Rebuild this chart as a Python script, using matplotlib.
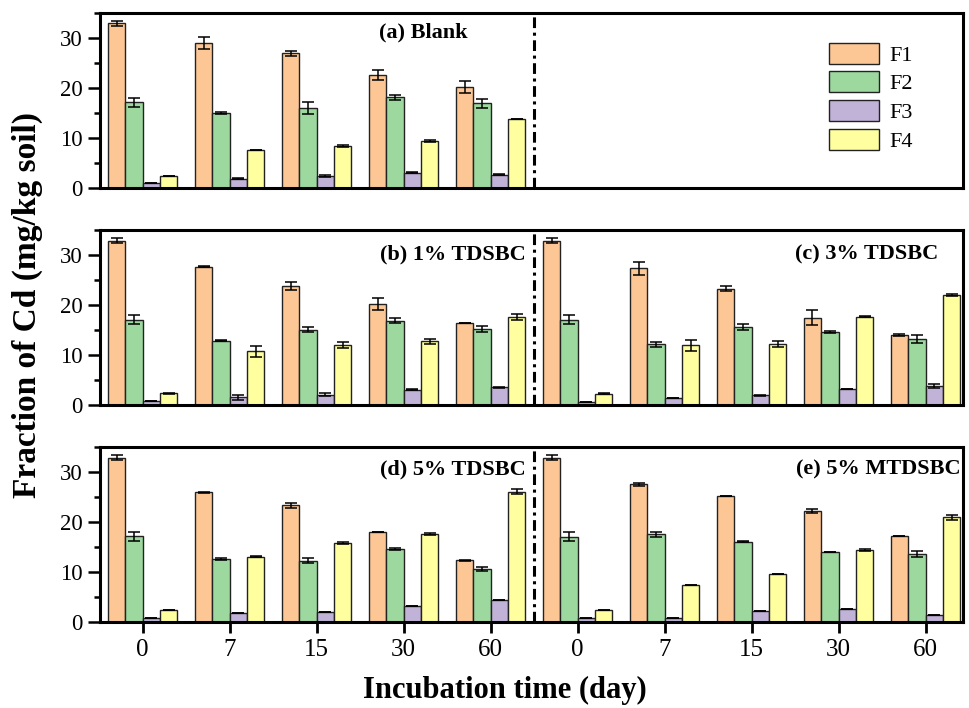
import numpy as np
import matplotlib.pyplot as plt
from matplotlib.ticker import MultipleLocator

plt.rcParams['font.family'] = ['Liberation Serif', 'DejaVu Serif']

days = ['0', '7', '15', '30', '60']
fractions = ['F1', 'F2', 'F3', 'F4']
colors = ['#FDC795', '#9DD89E', '#C1B2D7', '#FFFF9F']

# filas: F1..F4, columnas: 0, 7, 15, 30, 60 dias
blank = [[33.0, 29.1, 27.0, 22.7, 20.2],
         [17.2, 15.0, 16.0, 18.2, 17.0],
         [1.0, 1.9, 2.4, 3.1, 2.7],
         [2.5, 7.6, 8.5, 9.5, 13.8]]
blank_err = [[0.5, 1.2, 0.5, 1.0, 1.2],
             [0.9, 0.2, 1.2, 0.5, 0.9],
             [0.0, 0.1, 0.2, 0.1, 0.1],
             [0.0, 0.0, 0.2, 0.2, 0.0]]

tdsbc1 = [[32.9, 27.7, 23.9, 20.2, 16.5],
          [17.1, 12.9, 15.1, 16.9, 15.3],
          [0.8, 1.6, 2.1, 3.1, 3.6],
          [2.4, 10.8, 12.0, 12.8, 17.7]]
tdsbc1_err = [[0.5, 0.15, 0.8, 1.2, 0.0],
              [0.9, 0.15, 0.5, 0.5, 0.6],
              [0.0, 0.5, 0.3, 0.1, 0.1],
              [0.1, 1.1, 0.6, 0.5, 0.6]]

tdsbc3 = [[32.9, 27.4, 23.3, 17.5, 14.1],
          [17.1, 12.2, 15.6, 14.7, 13.2],
          [0.7, 1.5, 2.0, 3.2, 3.8],
          [2.3, 12.0, 12.3, 17.7, 22.0]]
tdsbc3_err = [[0.5, 1.3, 0.5, 1.5, 0.2],
              [0.9, 0.5, 0.6, 0.2, 0.8],
              [0.0, 0.0, 0.1, 0.0, 0.4],
              [0.1, 1.1, 0.6, 0.1, 0.2]]

tdsbc5 = [[32.9, 26.0, 23.4, 18.1, 12.4],
          [17.2, 12.6, 12.3, 14.6, 10.6],
          [0.9, 1.9, 2.1, 3.3, 4.5],
          [2.5, 13.1, 15.9, 17.7, 26.1]]
tdsbc5_err = [[0.5, 0.1, 0.5, 0.0, 0.1],
              [0.9, 0.2, 0.5, 0.2, 0.4],
              [0.0, 0.0, 0.0, 0.0, 0.0],
              [0.0, 0.1, 0.2, 0.2, 0.5]]

mtdsbc5 = [[32.9, 27.6, 25.2, 22.3, 17.3],
           [17.1, 17.6, 16.1, 14.1, 13.7],
           [0.8, 0.8, 2.3, 2.6, 1.4],
           [2.4, 7.4, 9.6, 14.4, 21.0]]
mtdsbc5_err = [[0.5, 0.3, 0.0, 0.4, 0.0],
               [0.9, 0.5, 0.1, 0.0, 0.6],
               [0.0, 0.0, 0.0, 0.0, 0.0],
               [0.0, 0.0, 0.0, 0.2, 0.5]]

w = 0.2


def barras(ax, inicio, medias, errores):
    for k in range(4):
        x = inicio + np.arange(5) + (k - 1.5) * w
        ax.bar(x, medias[k], w, yerr=errores[k], color=colors[k],
               edgecolor='#222222', linewidth=1.0, capsize=4.5,
               error_kw=dict(elinewidth=1.1, capthick=1.1, ecolor='black'),
               label=fractions[k])


def texto(ax, x, y, s):
    ax.text(x, y, s, transform=ax.get_xaxis_transform(), ha='right', va='top',
            fontsize=16, fontweight='bold')


fig = plt.figure(figsize=(9.69, 7.08), dpi=100)
izq, ancho, alto = 100 / 969, 863 / 969, 175 / 708
ax1 = fig.add_axes([izq, 1 - 188 / 708, ancho, alto])
ax2 = fig.add_axes([izq, 1 - 405 / 708, ancho, alto])
ax3 = fig.add_axes([izq, 1 - 622 / 708, ancho, alto])

barras(ax1, 0, blank, blank_err)
barras(ax2, 0, tdsbc1, tdsbc1_err)
barras(ax2, 5, tdsbc3, tdsbc3_err)
barras(ax3, 0, tdsbc5, tdsbc5_err)
barras(ax3, 5, mtdsbc5, mtdsbc5_err)

texto(ax1, 3.74, 0.945, '(a) Blank')
texto(ax2, 4.40, 0.92, '(b) 1% TDSBC')
texto(ax2, 9.15, 0.92, '(c) 3% TDSBC')
texto(ax3, 4.40, 0.93, '(d) 5% TDSBC')
texto(ax3, 9.40, 0.93, '(e) 5% MTDSBC')

for ax in (ax1, ax2, ax3):
    ax.set_xlim(-0.49, 9.43)
    ax.set_ylim(0, 35)
    ax.axvline(4.5, color='black', linewidth=2.2,
               linestyle=(0, (3.5, 1.5, 1, 1.5)))
    ax.yaxis.set_major_locator(MultipleLocator(10))
    ax.yaxis.set_minor_locator(MultipleLocator(5))
    for s in ax.spines.values():
        s.set_linewidth(2.2)
    ax.tick_params(axis='y', which='major', length=8.5, width=1.8,
                   labelsize=16.5, pad=4)
    ax.tick_params(axis='y', which='minor', length=4.5, width=1.8)
    ax.tick_params(axis='x', bottom=False, labelbottom=False)

ax3.set_xticks(range(10))
ax3.set_xticklabels(days * 2)
ax3.tick_params(axis='x', bottom=True, labelbottom=True, length=8, width=2,
                labelsize=18, pad=4)

ax1.legend(loc='upper left', bbox_to_anchor=(0.845, 0.83), frameon=False,
           fontsize=16, handlelength=2.25, handleheight=1.08,
           labelspacing=0.25, handletextpad=0.45, borderpad=0,
           borderaxespad=0)

fig.text(0.028, 0.569, 'Fraction of Cd (mg/kg soil)', rotation=90,
         ha='center', va='center', fontsize=24, fontweight='bold')
fig.text(0.521, 0.025, 'Incubation time (day)', ha='center', va='center',
         fontsize=22, fontweight='bold')

plt.savefig('out.png', dpi=100)
